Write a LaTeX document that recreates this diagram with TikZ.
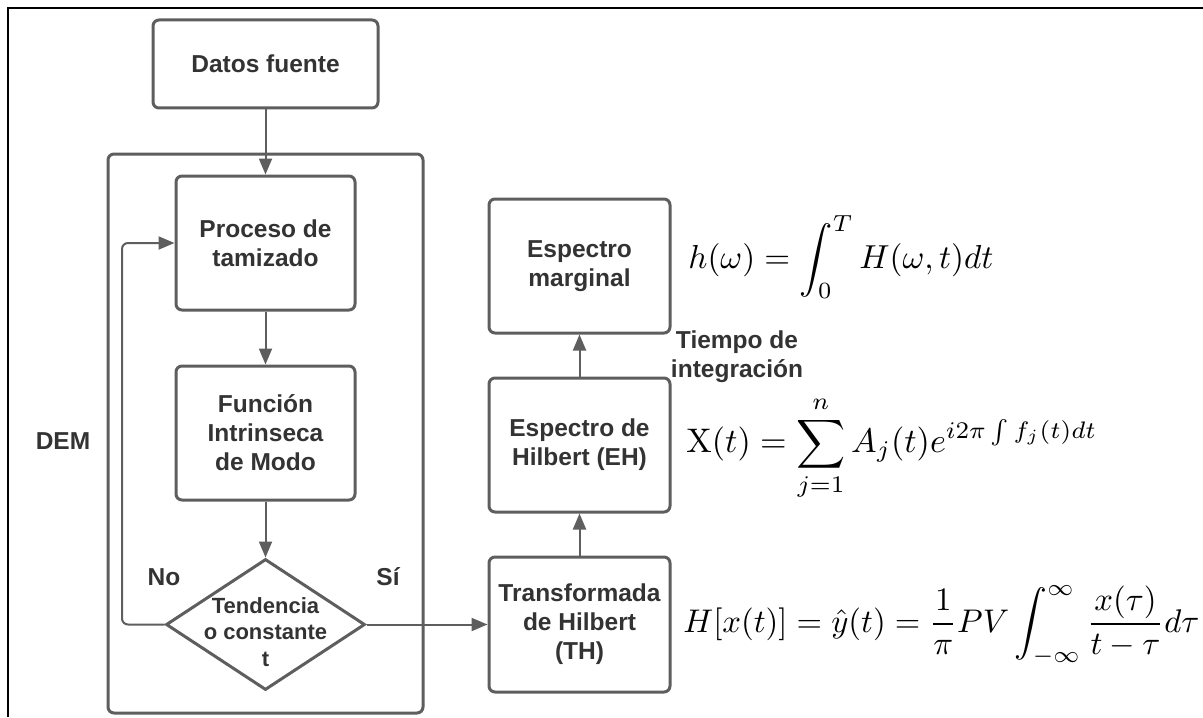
\documentclass[tikz,border=0pt]{standalone}
\usepackage{amsmath}
\usepackage{graphicx}
\usepackage[no-math]{fontspec}
\setmainfont{Liberation Sans}
\usetikzlibrary{shapes.geometric,arrows.meta}
\definecolor{linegray}{HTML}{5E5E5E}
\definecolor{txtgray}{HTML}{333333}
\begin{document}
\begin{tikzpicture}[x=0.5pt,y=-0.5pt,
  box/.style={draw=linegray, line width=1.5pt, rounded corners=3pt, fill=white,
    align=center, font=\bfseries\fontsize{12.25}{14.5}\selectfont, text=txtgray, inner sep=0pt},
  conn/.style={draw=linegray, line width=1pt, -{Triangle[length=8pt,width=6.5pt]}},
  lbl/.style={font=\bfseries\fontsize{12.25}{14.5}\selectfont, text=txtgray, align=center, inner sep=0pt},
  eq/.style={anchor=base west, inner sep=0pt, text=black}]
\useasboundingbox (0,0) rectangle (1203,717);
\fill[white] (0,0) rectangle (1203,717);
\draw[line width=1pt, black] (8,717) -- (8,8) -- (1203,8);

% DEM container
\node[draw=linegray, line width=1.5pt, rounded corners=3pt, minimum width=157.5pt,
  minimum height=279.5pt, inner sep=0pt] (dem) at (265.5,433.5) {};
\node[lbl] (demlbl) at (63,441) {DEM};

\node[box, minimum width=112.5pt, minimum height=44pt] (datos) at (265.5,64) {Datos fuente};
\node[box, minimum width=89.5pt, minimum height=67pt] (proc) at (265.5,243) {Proceso de\\tamizado};
\node[box, minimum width=89.5pt, minimum height=67pt] (fim) at (265.5,433) {Función\\Intrinseca\\de Modo};
\node[draw=linegray, line width=1.5pt, diamond, minimum width=99.5pt, minimum height=65.5pt,
  inner sep=0pt, fill=white] (dia) at (265.5,624.5) {};
\node[lbl, font=\bfseries\fontsize{11}{13.25}\selectfont] (diatxt) at (265.5,632) {Tendencia\\o constante\\t};
\node[lbl] (nolbl) at (164,577) {No};
\node[lbl] (silbl) at (388,577) {Sí};

\node[box, minimum width=90.5pt, minimum height=67.5pt] (th) at (579.5,624.5) {Transformada\\de Hilbert\\(TH)};
\node[box, minimum width=90.5pt, minimum height=67pt] (eh) at (579.5,445) {Espectro de\\Hilbert (EH)};
\node[box, minimum width=90.5pt, minimum height=67pt] (marg) at (579.5,266) {Espectro\\marginal};
\node[lbl] (tiempo) at (737,357) {Tiempo de\\integración};

\coordinate (loopc) at (122,624.5);
\draw[conn] (datos) -- (proc);
\draw[conn] (proc) -- (fim);
\draw[conn] (fim) -- (dia);
\draw[conn, rounded corners=3pt] (dia.west) -- (loopc) |- (proc.west);
\draw[conn] (dia.east) -- (th.west);
\draw[conn] (th) -- (eh);
\draw[conn] (eh) -- (marg);

\node[eq] (eqa) at (688,260) {\resizebox{152.5pt}{!}{\raisebox{-0.25em}{$\displaystyle h(\omega)=\int_0^T H(\omega,t)dt$}}};
\node[eq] (eqb) at (686,444) {\resizebox{205.5pt}{!}{\raisebox{-0.25em}{$\displaystyle \mathrm{X}(t)=\sum_{j=1}^{n}A_j(t)e^{i2\pi\int f_j(t)dt}$}}};
\node[eq] (eqc) at (683,624) {\resizebox{258pt}{!}{\raisebox{-0.25em}{$\displaystyle H[x(t)]=\hat{y}(t)=\frac{1}{\pi}PV\int_{-\infty}^{\infty}\frac{x(\tau)}{t-\tau}d\tau$}}};
\end{tikzpicture}
\end{document}
